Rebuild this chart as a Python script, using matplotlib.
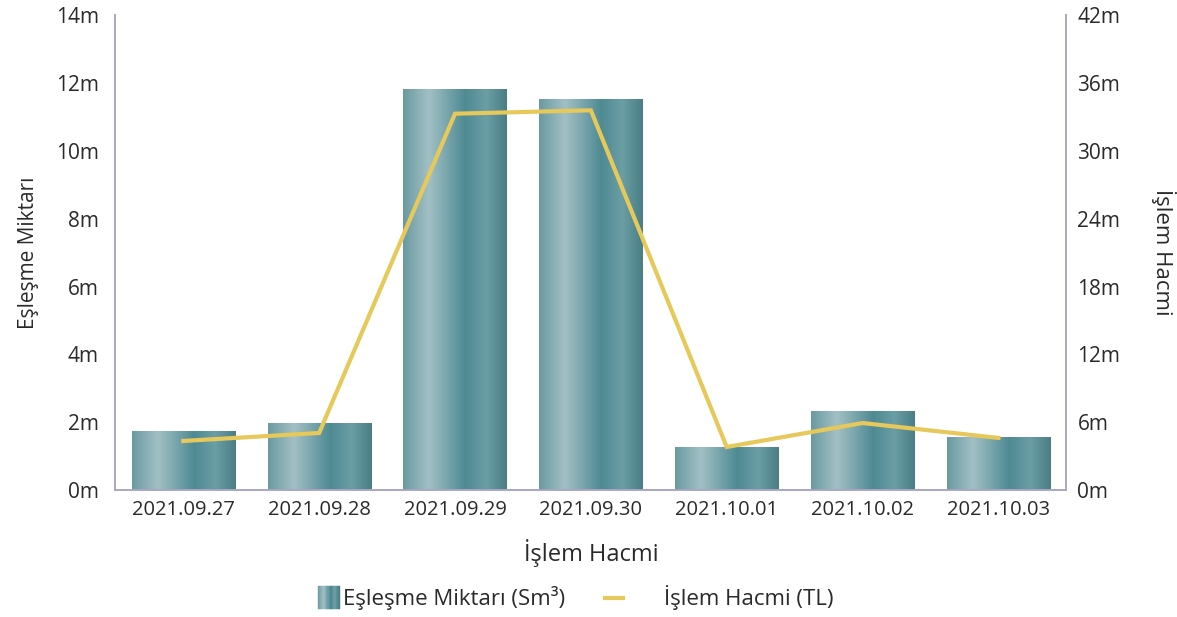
import numpy as np
import matplotlib.pyplot as plt
from matplotlib.colors import LinearSegmentedColormap
from matplotlib.patches import Rectangle
from matplotlib.legend_handler import HandlerBase
from matplotlib.lines import Line2D

plt.rcParams['font.family'] = ['Open Sans', 'DejaVu Sans']

dates = ['2021.09.27', '2021.09.28', '2021.09.29', '2021.09.30',
         '2021.10.01', '2021.10.02', '2021.10.03']
eslesme = [1.74, 1.98, 11.83, 11.53, 1.27, 2.33, 1.56]      # milyon Sm³
islem_hacmi = [4.33, 5.04, 33.3, 33.6, 3.8, 5.92, 4.6]      # milyon TL

grad = LinearSegmentedColormap.from_list('bar', [
    (0.0, '#6a9aa1'), (0.25, '#a2c0c5'), (0.6, '#4f8a93'),
    (0.8, '#6b9ea5'), (1.0, '#4a7e86')])
axis_col = '#a9a7c4'
line_col = '#e6c95a'
text_col = '#2a2a2a'

fig, ax = plt.subplots(figsize=(11.77, 6.17), dpi=100)
fig.subplots_adjust(left=0.098, right=0.906, top=0.975, bottom=0.206)
ax2 = ax.twinx()

x = np.arange(len(dates))
w = 0.76
bars = ax.bar(x, eslesme, width=w, color='none', zorder=2)
gimg = np.linspace(0, 1, 256).reshape(1, -1)
for b in bars:
    x0, y0 = b.get_x(), b.get_y()
    im = ax.imshow(gimg, cmap=grad, aspect='auto', zorder=2,
                   extent=[x0, x0 + b.get_width(), y0, y0 + b.get_height()])
    im.set_clip_path(b)

ax2.plot(x, islem_hacmi, color=line_col, lw=3, zorder=3, solid_joinstyle='miter')

ax.set_xlim(-0.5, len(dates) - 0.5)
ax.set_ylim(0, 14)
ax2.set_ylim(0, 42)
ax.set_yticks(np.arange(0, 15, 2))
ax.set_yticklabels([f'{v}m' for v in range(0, 15, 2)])
ax2.set_yticks(np.arange(0, 43, 6))
ax2.set_yticklabels([f'{v}m' for v in range(0, 43, 6)])
ax.set_xticks(x)
ax.set_xticklabels(dates)

for a in (ax, ax2):
    a.spines['top'].set_visible(False)
    for s in ('left', 'right', 'bottom'):
        a.spines[s].set_color(axis_col)
        a.spines[s].set_linewidth(1.2)
    a.tick_params(length=0, colors=text_col)
ax.tick_params(axis='y', labelsize=15, pad=12)
ax2.tick_params(axis='y', labelsize=15, pad=8)
ax.tick_params(axis='x', labelsize=14.5, pad=7)

ax.set_ylabel('Eşleşme Miktarı', fontsize=15, color=text_col, labelpad=12)
ax2.set_ylabel('İşlem Hacmi', fontsize=16, color=text_col, rotation=270, labelpad=40)
ax.set_xlabel('İşlem Hacmi', fontsize=17, color=text_col, labelpad=14)


class GradHandler(HandlerBase):
    def create_artists(self, legend, orig, xd, yd, width, height, fontsize, trans):
        arts = []
        n = 16
        hw = 16
        y0 = yd + height / 2 - hw / 2
        for i in range(n):
            r = Rectangle((xd + width - hw + i * hw / n, y0), hw / n, hw,
                          facecolor=grad(i / (n - 1)), edgecolor=grad(i / (n - 1)),
                          lw=0.3, transform=trans)
            arts.append(r)
        return arts


class ShortLineHandler(HandlerBase):
    def create_artists(self, legend, orig, xd, yd, width, height, fontsize, trans):
        ln = Line2D([xd, xd + 13], [yd + height / 2] * 2, color=line_col, lw=3,
                    transform=trans)
        return [ln]


bar_handle = Rectangle((0, 0), 1, 1)
line_handle = Line2D([], [], color=line_col, lw=3)
fig.legend([bar_handle, line_handle], ['Eşleşme Miktarı (Sm³)', 'İşlem Hacmi (TL)'],
           handler_map={Rectangle: GradHandler(), Line2D: ShortLineHandler()},
           loc='center', bbox_to_anchor=(0.475, 0.031), ncol=2, frameon=False,
           fontsize=16, handlelength=2.5, handletextpad=0.15, columnspacing=1.8,
           labelcolor=text_col)

fig.savefig('out.png', dpi=100)
